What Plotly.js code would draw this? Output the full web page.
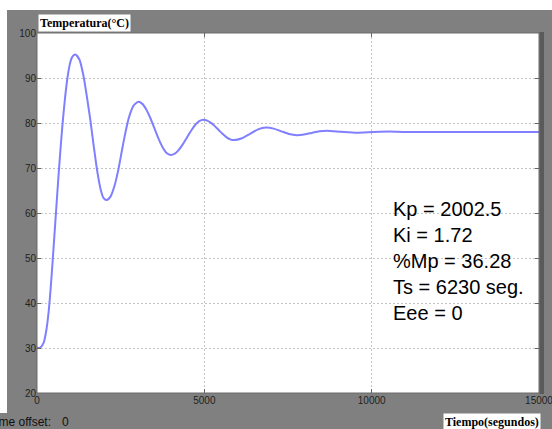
<!DOCTYPE html>
<html>
<head>
<meta charset="utf-8">
<script src="https://cdn.plot.ly/plotly-3.0.1.min.js"></script>
<style>html,body{margin:0;padding:0;background:#fff;}#chart{width:552px;height:429px;}</style>
</head>
<body>
<div id="chart"></div>
<script>
// ---- data ----
const time = [0,100,200,280,340,400,460,520,580,640,700,760,830,900,970,1040,1100,1157,1273,1388,1504,1600,1700,1800,1900,1990,2082,2200,2318,2436,2540,2640,2750,2890,3027,3148,3269,3390,3510,3631,3752,3873,3994,4116,4238,4360,4482,4604,4726,4848,4970,5085,5199,5314,5428,5543,5657,5772,5886,6125,6365,6604,6843,7072,7302,7531,7760,7984,8208,8432,8656,9104,9552,10050,10550,11000,12000,13000,14000,15000];
const temperature = [30,30.1,31.2,34,37.5,42.5,48.5,55,61.5,68,74,79.5,85,89.5,92.7,94.5,95.1,95.2,94.0,90.5,85.2,80.3,74.6,69.3,65.3,63.3,62.9,63.7,66.1,69.8,74.0,77.8,81.3,83.9,84.7,84.25,82.97,81.06,78.8,76.54,74.63,73.35,72.9,73.2,74.04,75.31,76.8,78.29,79.56,80.4,80.7,80.53,80.04,79.31,78.45,77.59,76.86,76.37,76.2,76.61,77.6,78.59,79.0,78.75,78.15,77.55,77.3,77.45,77.8,78.15,78.3,78.05,77.85,78.0,78.1,78.0,78.0,78.0,78.0,78.0];
const xTicks = [0,5000,10000,15000];
const yTicks = [20,30,40,50,60,70,80,90,100];
const paramLabels = ['Kp = 2002.5','Ki = 1.72','%Mp = 36.28','Ts = 6230 seg.','Eee = 0'];
const yTitle = 'Temperatura(°C)';
const xTitle = 'Tiempo(segundos)';
const offsetLabel = 'Time offset:';
const offsetValue = '0';

// ---- layout helpers (pixel -> paper) ----
const W = 552, H = 429, L = 37, R = 13, T = 33, B = 36;
const pw = W - L - R, ph = H - T - B;
const px = x => (x - L) / pw;
const py = y => (H - B - y) / ph;

const trace = {
  x: time, y: temperature, type: 'scatter', mode: 'lines',
  line: {color: '#7f7fff', width: 2, shape: 'spline', smoothing: 0.6},
  hoverinfo: 'skip'
};

const tickFont = {family: 'Liberation Sans, Arial, sans-serif', size: 10, color: '#222'};
const axisCommon = {
  ticks: 'inside', ticklen: 4, tickcolor: '#666', tickwidth: 1,
  showgrid: true, gridcolor: '#c4c4c4', griddash: '2px,2px', gridwidth: 1,
  zeroline: false, mirror: 'ticks', showline: false,
  tickfont: tickFont, exponentformat: 'none', fixedrange: true,
  ticklabeloverflow: 'allow'
};

const layout = {
  width: W, height: H,
  margin: {l: L, r: R, t: T, b: B, pad: 0},
  paper_bgcolor: '#808080', plot_bgcolor: '#ffffff',
  showlegend: false,
  xaxis: Object.assign({}, axisCommon, {range: [0, 15000], tickvals: xTicks, ticktext: xTicks.map(String)}),
  yaxis: Object.assign({}, axisCommon, {range: [20, 100], tickvals: yTicks, ticktext: yTicks.map(String)}),
  shapes: [
    {type: 'rect', xref: 'paper', yref: 'paper', x0: px(0), x1: px(W), y0: py(10), y1: py(0), fillcolor: '#ffffff', line: {width: 0}, layer: 'below'},
    {type: 'rect', xref: 'paper', yref: 'paper', x0: px(0), x1: px(7), y0: py(413), y1: py(0), fillcolor: '#ffffff', line: {width: 0}, layer: 'below'},
    {type: 'rect', xref: 'paper', yref: 'paper', x0: px(539.5), x1: px(544), y0: py(394), y1: py(32), fillcolor: '#5a5a5a', line: {width: 0}, layer: 'below'},
    {type: 'rect', xref: 'paper', yref: 'paper', x0: 0, x1: 1, y0: 0, y1: 1, line: {color: '#6a6a6a', width: 1}, fillcolor: 'rgba(0,0,0,0)', layer: 'above'}
  ],
  annotations: [
    {xref: 'paper', yref: 'paper', x: px(38), y: py(14), xanchor: 'left', yanchor: 'top', showarrow: false,
     text: '<b>' + yTitle + '</b>', bgcolor: '#ffffff', borderpad: 1,
     font: {family: 'Liberation Serif, Times New Roman, serif', size: 12, color: '#000'}},
    {xref: 'paper', yref: 'paper', x: px(443), y: py(413), xanchor: 'left', yanchor: 'top', showarrow: false,
     text: '<b>' + xTitle + '</b>', bgcolor: '#ffffff', borderpad: 1,
     font: {family: 'Liberation Serif, Times New Roman, serif', size: 12, color: '#000'}},
    {xref: 'paper', yref: 'paper', x: px(53), y: py(422), xanchor: 'right', yanchor: 'middle', showarrow: false,
     text: offsetLabel, font: {family: 'Liberation Sans, Arial, sans-serif', size: 12, color: '#111'}},
    {xref: 'paper', yref: 'paper', x: px(60), y: py(422), xanchor: 'left', yanchor: 'middle', showarrow: false,
     text: offsetValue, font: {family: 'Liberation Sans, Arial, sans-serif', size: 12, color: '#111'}},
    {xref: 'paper', yref: 'paper', x: px(391), y: py(261), xanchor: 'left', yanchor: 'middle', showarrow: false, align: 'left',
     text: paramLabels.join('<br>'), font: {family: 'Liberation Sans, Arial, sans-serif', size: 20, color: '#000'}}
  ]
};

Plotly.newPlot('chart', [trace], layout, {displayModeBar: false, staticPlot: true});
</script>
</body>
</html>
